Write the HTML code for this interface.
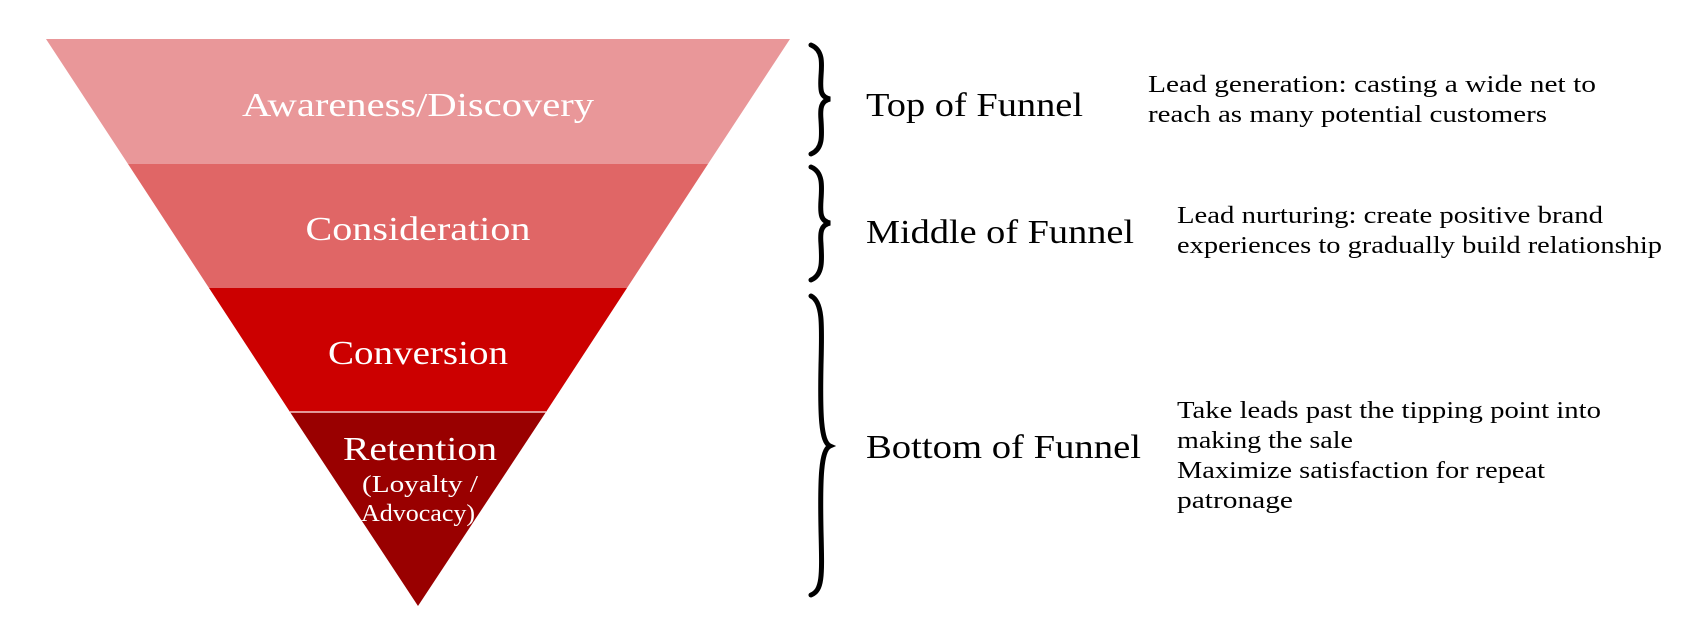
<!DOCTYPE html>
<html><head><meta charset="utf-8"><style>
html,body{margin:0;padding:0;background:#fff;width:1690px;height:632px;overflow:hidden}
svg{display:block}
text{font-family:"Liberation Serif",serif}
</style></head><body>
<svg width="1690" height="632" viewBox="0 0 1690 632" xmlns="http://www.w3.org/2000/svg">
<polygon points="46,39 790,39 708,164 128,164" fill="#E99799"/>
<polygon points="128,164 708,164 627,288 209,288" fill="#E06666"/>
<polygon points="209,288 627,288 546,412 290,412" fill="#CC0000"/>
<polygon points="290,412 546,412 418,606" fill="#990000"/>
<line x1="290" y1="412" x2="546" y2="412" stroke="#f3c9c9" stroke-width="1.5"/>
<g fill="#fff" text-anchor="middle">
<text x="418" y="116" font-size="34" textLength="352" lengthAdjust="spacingAndGlyphs">Awareness/Discovery</text>
<text x="418" y="240" font-size="34" textLength="225" lengthAdjust="spacingAndGlyphs">Consideration</text>
<text x="418" y="364" font-size="34" textLength="180" lengthAdjust="spacingAndGlyphs">Conversion</text>
<text x="420" y="460" font-size="34" textLength="154" lengthAdjust="spacingAndGlyphs">Retention</text>
<text x="420" y="492" font-size="24" textLength="116" lengthAdjust="spacingAndGlyphs">(Loyalty /</text>
<text x="418" y="521" font-size="24" textLength="114" lengthAdjust="spacingAndGlyphs">Advocacy)</text>
</g>
<g fill="none" stroke="#000" stroke-width="5" stroke-linecap="round">
<path d="M811,45 C823,50 822,63 821,76 C820,92 821,97 830,99 C821,101 820,108 821,120 C822,136 823,149 811,154"/>
<path d="M811,167 C823,172 822,186 821,200 C820,215 821,221 830,223 C821,225 820,232 821,244 C822,260 823,275 811,280"/>
<path d="M811,296 C823,302 822,325 821,365 C820,415 821,442 830,446 C821,450 820,478 821,530 C822,575 823,590 811,595"/>
</g>
<g fill="#000">
<text x="866" y="116" font-size="34" textLength="217" lengthAdjust="spacingAndGlyphs">Top of Funnel</text>
<text x="866" y="243" font-size="34" textLength="268" lengthAdjust="spacingAndGlyphs">Middle of Funnel</text>
<text x="866" y="458" font-size="34" textLength="275" lengthAdjust="spacingAndGlyphs">Bottom of Funnel</text>
<text x="1148" y="92" font-size="24" textLength="448" lengthAdjust="spacingAndGlyphs">Lead generation: casting a wide net to</text>
<text x="1148" y="122" font-size="24" textLength="399" lengthAdjust="spacingAndGlyphs">reach as many potential customers</text>
<text x="1177" y="223" font-size="24" textLength="426" lengthAdjust="spacingAndGlyphs">Lead nurturing: create positive brand</text>
<text x="1177" y="253" font-size="24" textLength="485" lengthAdjust="spacingAndGlyphs">experiences to gradually build relationship</text>
<text x="1177" y="418" font-size="24" textLength="424" lengthAdjust="spacingAndGlyphs">Take leads past the tipping point into</text>
<text x="1177" y="448" font-size="24" textLength="176" lengthAdjust="spacingAndGlyphs">making the sale</text>
<text x="1177" y="478" font-size="24" textLength="368" lengthAdjust="spacingAndGlyphs">Maximize satisfaction for repeat</text>
<text x="1177" y="508" font-size="24" textLength="116" lengthAdjust="spacingAndGlyphs">patronage</text>
</g>
</svg>
</body></html>
